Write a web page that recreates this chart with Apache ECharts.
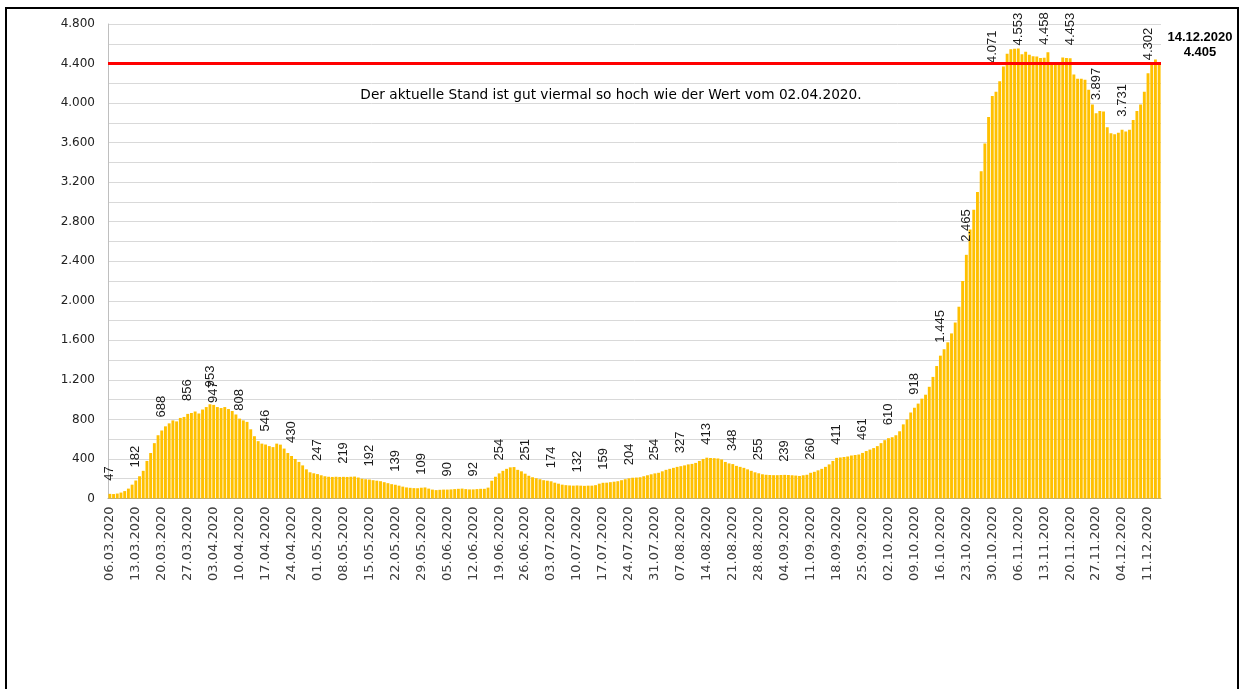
<!DOCTYPE html>
<html>
<head>
<meta charset="utf-8">
<title>Tageswerte 2020</title>
<script src="https://cdn.jsdelivr.net/npm/echarts@6/dist/echarts.min.js"></script>
<style>
html, body { margin: 0; padding: 0; background: #fff; }
#chart { width: 1242px; height: 689px; }
</style>
</head>
<body>
<div id="chart"></div>
<script>
// Tageswerte ab 06.03.2020, je Monat ein Array
const march = [47, 45, 50, 60, 75, 100, 140, 182, 225, 280, 380, 460, 560, 640, 688, 730, 760, 790, 780, 815,
  825, 856, 865, 880, 860, 900]
const april = [925, 953, 947, 925, 915, 925, 905, 885, 850, 808, 790, 775, 700, 630, 580, 555, 546, 530, 520, 555,
  545, 505, 460, 430, 400, 370, 335, 295, 265, 255]
const may = [247, 235, 225, 220, 218, 220, 218, 219, 218, 220, 222, 212, 200, 195, 192, 185, 180, 175, 165, 155,
  145, 139, 130, 120, 112, 108, 105, 104, 109, 112, 100]
const june = [90, 85, 88, 90, 90, 92, 95, 98, 100, 95, 92, 92, 95, 98, 98, 110, 180, 220, 254, 280,
  300, 315, 318, 290, 275, 251, 230, 215, 205, 195]
const july = [185, 180, 174, 160, 150, 140, 135, 132, 130, 132, 130, 128, 130, 130, 135, 150, 159, 160, 165, 170,
  175, 185, 195, 204, 210, 212, 215, 225, 235, 245, 254]
const august = [260, 275, 290, 300, 310, 320, 327, 335, 345, 350, 360, 380, 400, 413, 410, 408, 405, 395, 370, 355,
  348, 330, 320, 310, 295, 280, 265, 255, 245, 240, 238]
const september = [236, 236, 238, 239, 238, 235, 232, 228, 235, 240, 260, 270, 285, 300, 320, 345, 380, 411, 415, 420,
  425, 435, 440, 445, 461, 480, 495, 510, 530, 560]
const october = [590, 610, 620, 640, 680, 750, 800, 870, 918, 960, 1010, 1050, 1130, 1230, 1340, 1445, 1510, 1580, 1670, 1780,
  1940, 2200, 2465, 2720, 2920, 3100, 3310, 3590, 3860, 4071, 4115]
const november = [4220, 4370, 4500, 4545, 4550, 4553, 4495, 4520, 4490, 4475, 4470, 4455, 4458, 4515, 4400, 4400, 4405, 4460, 4455, 4453,
  4290, 4245, 4245, 4235, 4135, 3985, 3897, 3920, 3915, 3755]
const december = [3695, 3685, 3700, 3731, 3712, 3730, 3830, 3920, 3985, 4115, 4302, 4395, 4440, 4405]

const values = [].concat(march, april, may, june, july, august, september, october, november, december)

// Beschriftete Tage: jeder 7. Tag ab Start, dazu der Vergleichstag
const labelStep = 7
const compareDate = '02.04.2020'
const noteText = 'Der aktuelle Stand ist gut viermal so hoch wie der Wert vom ' + compareDate + '.'

// Abstand der Wertebeschriftung zum Balken (px)
const labelGap = { '02.04.2020': 17, '03.04.2020': 2, '10.04.2020': 8, '30.10.2020': 33, '06.11.2020': 3 }

const pad = n => (n < 10 ? '0' : '') + n
const dates = values.map((v, i) => {
  const d = new Date(2020, 2, 6 + i)
  return pad(d.getDate()) + '.' + pad(d.getMonth() + 1) + '.' + d.getFullYear()
})

// 4400 -> "4.400"
const fmt = v => String(v).replace(/\B(?=(\d{3})+(?!\d))/g, '.')

const lastIdx = values.length - 1
const lastValue = values[lastIdx]

const barData = values.map((v, i) => {
  const show = (i % labelStep === 0 || dates[i] === compareDate) && i !== lastIdx
  if (!show) return v
  return { value: v, label: { show: true, distance: labelGap[dates[i]] ?? 13 } }
})

const chart = echarts.init(document.getElementById('chart'))
chart.setOption({
  animation: false,
  grid: { left: 108, right: 81, top: 24, bottom: 190.5 },
  xAxis: {
    type: 'category',
    data: dates,
    axisLine: { lineStyle: { color: '#a6a6a6', width: 1 } },
    axisTick: { show: false },
    axisLabel: {
      interval: labelStep - 1,
      rotate: 90,
      margin: 8,
      fontFamily: 'DejaVu Sans',
      fontSize: 13,
      color: '#404040'
    }
  },
  yAxis: {
    type: 'value',
    min: 0,
    max: 4800,
    interval: 200,
    axisLine: { show: true, lineStyle: { color: '#bfbfbf' } },
    axisTick: { show: false },
    splitLine: { lineStyle: { color: '#d9d9d9', width: 1 } },
    axisLabel: {
      margin: 13,
      fontFamily: 'DejaVu Sans',
      fontSize: 12,
      color: '#222',
      formatter: v => (v % 400 === 0 ? fmt(v) : '')
    }
  },
  series: [{
    type: 'bar',
    data: barData,
    barCategoryGap: '22%',
    itemStyle: { color: '#FFC000' },
    label: {
      show: false,
      position: 'top',
      rotate: 90,
      align: 'left',
      verticalAlign: 'middle',
      fontFamily: 'Liberation Sans, Arial',
      fontSize: 13,
      color: '#1a1a1a',
      formatter: p => fmt(p.value)
    },
    markLine: {
      silent: true,
      symbol: ['none', 'none'],
      label: { show: false },
      lineStyle: { color: '#ff0000', width: 3, type: 'solid' },
      data: [{ yAxis: lastValue }]
    }
  }],
  graphic: [
    {
      type: 'rect',
      shape: { x: 6, y: 8, width: 1232, height: 700 },
      style: { fill: 'none', stroke: '#000', lineWidth: 2 },
      silent: true
    },
    {
      type: 'text',
      x: 611,
      y: 95,
      style: {
        text: noteText,
        fontFamily: 'DejaVu Sans',
        fontSize: 13.7,
        fill: '#000',
        align: 'center',
        verticalAlign: 'middle'
      }
    },
    {
      type: 'text',
      x: 1200,
      y: 37,
      style: {
        text: dates[lastIdx],
        fontFamily: 'Liberation Sans, Arial',
        fontWeight: 'bold',
        fontSize: 13,
        fill: '#000',
        align: 'center',
        verticalAlign: 'middle'
      }
    },
    {
      type: 'text',
      x: 1200,
      y: 52,
      style: {
        text: fmt(lastValue),
        fontFamily: 'Liberation Sans, Arial',
        fontWeight: 'bold',
        fontSize: 13,
        fill: '#000',
        align: 'center',
        verticalAlign: 'middle'
      }
    }
  ]
})
</script>
</body>
</html>
